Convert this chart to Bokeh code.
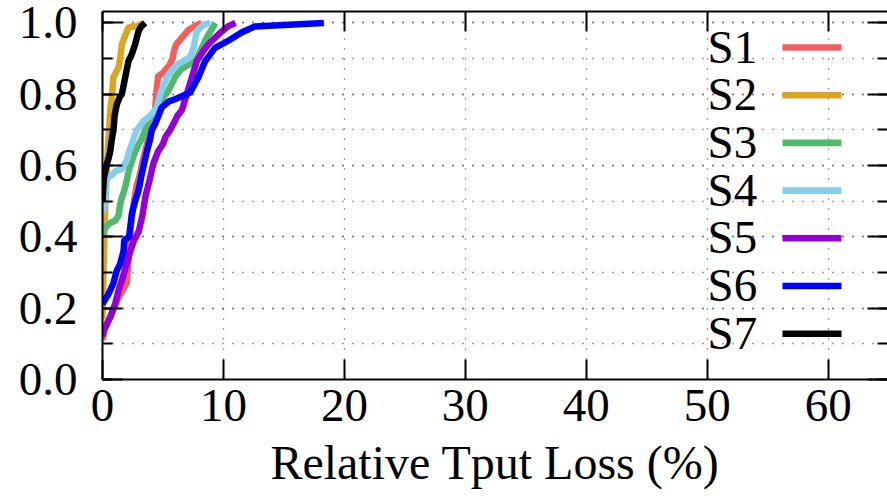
from bokeh.plotting import figure
from bokeh.models import (Range1d, LinearAxis, SingleIntervalTicker, Label,
                          BoxAnnotation, PrintfTickFormatter, CustomJSTickFormatter)
from bokeh.embed import file_html
from bokeh.resources import INLINE

# ---------------- data ----------------
series_names = ["S1", "S2", "S3", "S4", "S5", "S6", "S7"]
series_colors = ["#f25f5f", "#daa520", "#50b96c", "#87ceeb", "#9400d3", "#0000ff", "#000000"]

s1_x = [0.0, 0.22, 0.64, 1.19, 1.74, 2.0, 2.15, 2.3, 2.43, 2.6, 2.8, 3.11, 3.3, 3.6, 3.9, 4.3, 4.4, 4.5, 4.6, 5.0, 5.5, 5.8, 5.9, 6.1, 6.6, 7.1, 7.6, 8.2]
s1_y = [0.11, 0.15, 0.175, 0.22, 0.254, 0.27, 0.33, 0.416, 0.455, 0.50, 0.54, 0.577, 0.61, 0.65, 0.69, 0.72, 0.78, 0.82, 0.85, 0.86, 0.88, 0.90, 0.92, 0.94, 0.96, 0.98, 0.99, 1.0]

s2_x = [0.0, 0.05, 0.1, 0.15, 0.2, 0.3, 0.4, 0.5, 0.64, 0.8, 0.9, 1.1, 1.33, 1.5, 1.6, 1.88, 2.15, 2.5, 2.84, 3.1, 3.4]
s2_y = [0.17, 0.25, 0.33, 0.40, 0.46, 0.55, 0.62, 0.675, 0.755, 0.80, 0.848, 0.86, 0.875, 0.91, 0.94, 0.964, 0.987, 0.99, 0.99, 0.995, 1.0]

s3_x = [0.0, 0.1, 0.36, 0.7, 1.05, 1.33, 1.45, 1.6, 1.8, 2.0, 2.2, 2.43, 2.6, 2.84, 3.25, 3.53, 3.8, 4.2, 4.6, 5.0, 5.45, 6.0, 6.5, 6.97, 7.66, 8.07, 8.6, 9.17, 9.3]
s3_y = [0.40, 0.42, 0.43, 0.44, 0.445, 0.46, 0.49, 0.51, 0.53, 0.557, 0.59, 0.613, 0.63, 0.65, 0.675, 0.70, 0.725, 0.745, 0.763, 0.79, 0.81, 0.848, 0.87, 0.88, 0.893, 0.92, 0.958, 0.99, 1.0]

s4_x = [0.0, 0.1, 0.22, 0.3, 0.6, 0.9, 1.1, 1.6, 2.0, 2.2, 2.43, 2.56, 2.84, 2.98, 3.4, 3.8, 4.2, 4.5, 4.77, 5.0, 5.32, 5.8, 6.28, 6.8, 7.25, 7.52, 7.8, 8.2, 8.49, 8.9]
s4_y = [0.467, 0.48, 0.497, 0.56, 0.57, 0.577, 0.585, 0.59, 0.613, 0.64, 0.66, 0.675, 0.70, 0.706, 0.725, 0.735, 0.75, 0.763, 0.80, 0.82, 0.848, 0.87, 0.885, 0.895, 0.904, 0.93, 0.977, 0.99, 0.996, 1.0]

s5_x = [0.0, 0.08, 0.3, 0.64, 1.05, 1.33, 1.6, 2.0, 2.3, 2.6, 3.0, 3.3, 3.53, 3.9, 4.2, 4.6, 5.0, 5.2, 5.6, 5.87, 6.2, 6.56, 6.97, 7.39, 7.8, 8.3, 8.76, 9.2, 9.6, 10.4, 11.0]
s5_y = [0.12, 0.136, 0.15, 0.175, 0.212, 0.25, 0.278, 0.324, 0.36, 0.39, 0.416, 0.46, 0.51, 0.56, 0.605, 0.64, 0.66, 0.68, 0.70, 0.717, 0.74, 0.755, 0.80, 0.848, 0.893, 0.92, 0.94, 0.955, 0.968, 0.991, 1.0]

s6_x = [0.0, 0.08, 0.5, 0.9, 1.19, 1.46, 1.74, 1.8, 2.2, 2.43, 2.7, 2.98, 3.25, 3.67, 3.94, 4.08, 4.36, 4.9, 5.5, 6.0, 7.25, 7.93, 8.49, 9.3, 10.4, 11.5, 12.6, 18.3]
s6_y = [0.21, 0.217, 0.24, 0.27, 0.306, 0.324, 0.36, 0.39, 0.40, 0.465, 0.50, 0.53, 0.577, 0.64, 0.675, 0.70, 0.717, 0.763, 0.78, 0.786, 0.805, 0.848, 0.893, 0.93, 0.95, 0.973, 0.99, 1.0]

s7_x = [0.0, 0.05, 0.1, 0.2, 0.36, 0.5, 0.64, 0.78, 0.91, 1.0, 1.19, 1.4, 1.6, 1.88, 2.15, 2.4, 2.7, 2.98, 3.2, 3.53]
s7_y = [0.50, 0.53, 0.56, 0.58, 0.605, 0.62, 0.64, 0.675, 0.70, 0.74, 0.772, 0.79, 0.80, 0.848, 0.893, 0.91, 0.94, 0.977, 0.99, 1.0]

xs_all = [s1_x, s2_x, s3_x, s4_x, s5_x, s6_x, s7_x]
ys_all = [s1_y, s2_y, s3_y, s4_y, s5_y, s6_y, s7_y]

x_label = "Relative Tput Loss (%)"

# ---------------- figure ----------------
FONT = "Liberation Serif"
FS = "47px"

p = figure(width=887, height=498, output_backend="svg", toolbar_location=None,
           x_range=Range1d(0, 64.9), y_range=Range1d(0, 1.032),
           min_border_left=102, min_border_right=0, min_border_top=11,
           min_border_bottom=119)
p.outline_line_color = None
p.background_fill_color = "white"
p.border_fill_color = "white"

xt = SingleIntervalTicker(interval=10, num_minor_ticks=0)
yt = SingleIntervalTicker(interval=0.2, num_minor_ticks=2)
blank = CustomJSTickFormatter(code="return ''")

def style_axis(ax, ticker, show_labels):
    ax.ticker = ticker
    ax.axis_line_width = 2
    ax.axis_line_color = "black"
    ax.major_tick_in = 20
    ax.major_tick_out = 0
    ax.minor_tick_in = 10
    ax.minor_tick_out = 0
    ax.major_tick_line_width = 2
    ax.minor_tick_line_width = 2
    ax.major_tick_line_color = "black"
    ax.minor_tick_line_color = "black"
    if show_labels:
        ax.major_label_text_font = FONT
        ax.major_label_text_font_size = FS
        ax.major_label_text_color = "black"
    else:
        ax.formatter = blank
        ax.major_label_standoff = 0

xa = p.xaxis[0]
style_axis(xa, xt, True)
xa.major_label_standoff = 10
xa.axis_label = x_label
xa.axis_label_text_font = FONT
xa.axis_label_text_font_size = "48px"
xa.axis_label_text_font_style = "normal"
xa.axis_label_text_color = "black"
xa.axis_label_standoff = 12

ya = p.yaxis[0]
style_axis(ya, yt, True)
ya.formatter = PrintfTickFormatter(format="%.1f")
ya.major_label_standoff = 25

top_ax = LinearAxis()
style_axis(top_ax, xt, False)
p.add_layout(top_ax, "above")

right_ax = LinearAxis()
style_axis(right_ax, yt, False)
right_ax.axis_line_color = None
p.add_layout(right_ax, "right")

# grids: dotted
p.xgrid.ticker = xt
p.ygrid.ticker = yt
for g in (p.xgrid[0], p.ygrid[0]):
    g.grid_line_color = "#444444"
    g.grid_line_width = 1.3
    g.grid_line_dash = "1 9"
p.ygrid[0].minor_grid_line_color = "#444444"
p.ygrid[0].minor_grid_line_width = 1.3
p.ygrid[0].minor_grid_line_dash = "1 9"

# curves
for xs, ys, c in zip(xs_all, ys_all, series_colors):
    p.line(xs, ys, line_width=6.5, line_color=c, line_join="round")

# legend (gnuplot style: text then sample), positions in frame screen units
leg_text_x = 605
leg_line_left, leg_line_right = 680, 739
leg_line_y0 = 332
leg_text_y0 = 333
leg_step = 47.7
for i, (name, c) in enumerate(zip(series_names, series_colors)):
    ly = leg_line_y0 - i * leg_step
    ty = leg_text_y0 - i * leg_step
    p.add_layout(Label(x=leg_text_x, y=ty, x_units="screen", y_units="screen",
                       text=name, text_font=FONT, text_font_size=FS,
                       text_color="black", text_baseline="alphabetic",
                       text_align="left"))
    p.add_layout(BoxAnnotation(left=leg_line_left, right=leg_line_right,
                               bottom=ly - 3.3, top=ly + 3.3,
                               left_units="screen", right_units="screen",
                               bottom_units="screen", top_units="screen",
                               fill_color=c, fill_alpha=1.0, line_color=None))

open("out.html", "w").write(file_html(p, INLINE))
